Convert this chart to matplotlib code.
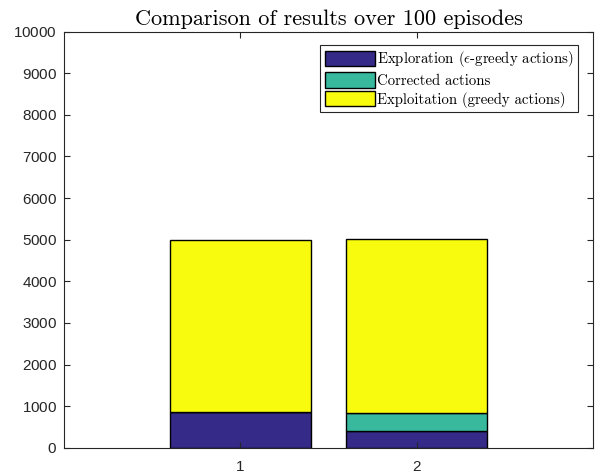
import numpy as np
import matplotlib
matplotlib.use("Agg")
import matplotlib.pyplot as plt

plt.rcParams['mathtext.fontset'] = 'cm'
plt.rcParams['axes.formatter.use_mathtext'] = True

cases = [1, 2]
exploration = [860, 400]
corrected = [0, 437]
exploitation = [4140, 4185]

labels = [r'Exploration ($\epsilon$-greedy actions)',
          'Corrected actions',
          'Exploitation (greedy actions)']
colors = ['#352a87', '#38b99e', '#f9fb0e']

fig = plt.figure(figsize=(6.02, 4.75), dpi=100)
ax = fig.add_axes([64/602, 27.3/475, 529/602, 416/475])

x = np.array(cases)
bottom = np.zeros(len(cases))
for vals, lab, col in zip([exploration, corrected, exploitation], labels, colors):
    ax.bar(x, vals, width=0.8, bottom=bottom, color=col, edgecolor='black',
           linewidth=1.0, label=lab)
    bottom = bottom + np.array(vals)

ax.set_xlim(0, 3)
ax.set_ylim(0, 10000)
ax.set_xticks(cases)
ax.set_yticks(np.arange(0, 10001, 1000))
ax.tick_params(direction='in', top=True, right=True, length=4, width=0.8,
               colors='#262626', labelsize=11)
ax.tick_params(axis='y', pad=5)
ax.tick_params(axis='x', pad=9)
for lbl in ax.get_xticklabels() + ax.get_yticklabels():
    lbl.set_family('Liberation Sans')
for s in ax.spines.values():
    s.set_color('#262626')
    s.set_linewidth(0.8)

ax.set_title('Comparison of results over 100 episodes', family='cmr10',
             fontsize=16, pad=5)

leg = ax.legend(loc='upper right', bbox_to_anchor=(0.972, 0.968),
                prop={'family': 'cmr10', 'size': 10.65}, fancybox=False,
                framealpha=1, edgecolor='#262626', borderaxespad=0,
                handlelength=3.4, handleheight=1.2, labelspacing=0.2,
                handletextpad=0.15, borderpad=0.3)
leg.get_frame().set_linewidth(0.8)

fig.savefig('out.png', dpi=100)
